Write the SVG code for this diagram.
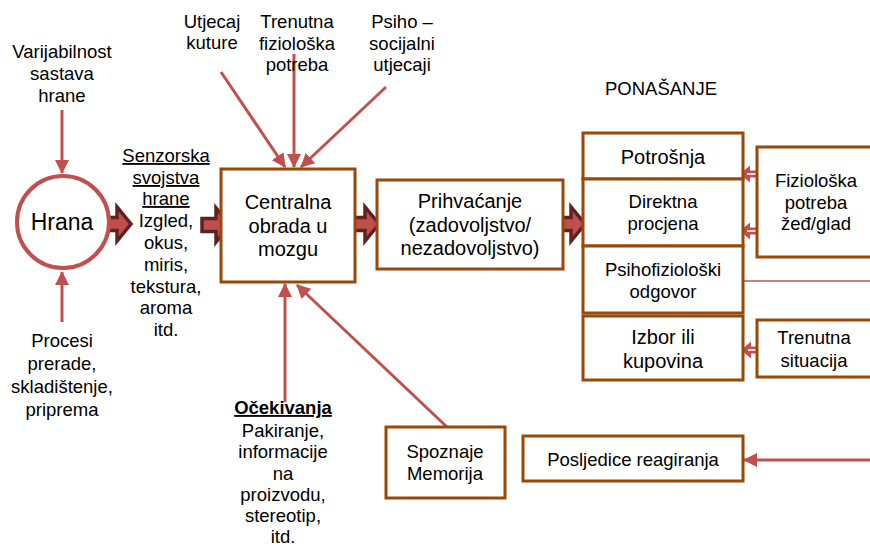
<svg xmlns="http://www.w3.org/2000/svg" xmlns:xlink="http://www.w3.org/1999/xlink" width="870" height="546" viewBox="0 0 870 546">
<style>
text{font-family:"Liberation Sans",Arial,sans-serif;font-size:18.5px;fill:#000;text-anchor:middle}
.big{font-size:20px}
.box{fill:#fff;stroke:#984807;stroke-width:3}
.ln{stroke:#C0504D;stroke-width:3;fill:none}
.ba{fill:#C0504D;stroke:#5E2220;stroke-width:3.5;stroke-linejoin:miter}
.ha{fill:#C0504D}
.wl{stroke:#fff;stroke-width:1.6}
</style>
<defs>
<marker id="ah" markerWidth="14" markerHeight="14" refX="13" refY="7" orient="auto" markerUnits="userSpaceOnUse"><path d="M0,0 L14,7 L0,14 z" fill="#C0504D"/></marker>
<path id="barrow" d="M0,-6.5 H14 V-17 L28,0 L14,17 V6.5 H0 Z"/>
<g id="harrow"><path d="M0,0 L10,-8.5 V-3.5 H32 V3.5 H10 V8.5 Z" class="ha"/><line x1="7" y1="0" x2="32" y2="0" class="wl"/></g>
</defs>

<g id="connectors">
<line class="ln" x1="62" y1="110" x2="62" y2="173" marker-end="url(#ah)"/>
<line class="ln" x1="62" y1="322" x2="62" y2="272" marker-end="url(#ah)"/>
<line class="ln" x1="221" y1="72" x2="285" y2="167" marker-end="url(#ah)"/>
<line class="ln" x1="294" y1="54" x2="294" y2="167" marker-end="url(#ah)"/>
<line class="ln" x1="386" y1="87" x2="301" y2="167" marker-end="url(#ah)"/>
<line class="ln" x1="285" y1="402" x2="285" y2="284" marker-end="url(#ah)"/>
<line class="ln" x1="447" y1="427" x2="297" y2="285" marker-end="url(#ah)"/>
<line class="ln" x1="872" y1="460" x2="744" y2="460" marker-end="url(#ah)"/>
<line x1="743" y1="281" x2="872" y2="281" stroke="#C0504D" stroke-width="1.5"/>
<use xlink:href="#barrow" href="#barrow" class="ba" x="103" y="224"/>
<use xlink:href="#barrow" href="#barrow" class="ba" x="202" y="225"/>
<use xlink:href="#barrow" href="#barrow" class="ba" x="351" y="224"/>
<use xlink:href="#barrow" href="#barrow" class="ba" x="557" y="224"/>
<use xlink:href="#harrow" href="#harrow" x="740" y="174"/>
<use xlink:href="#harrow" href="#harrow" x="740" y="231"/>
<use xlink:href="#harrow" href="#harrow" x="741" y="350"/>
</g>

<g id="hrana">
<circle cx="63" cy="222" r="46" fill="#fff" stroke="#C0504D" stroke-width="4"/>
<text x="62" y="230" style="font-size:23px">Hrana</text>
</g>

<g id="varijabilnost">
<text x="62" y="58">Varijabilnost</text>
<text x="62" y="80">sastava</text>
<text x="62" y="102">hrane</text>
</g>

<g id="procesi">
<text x="62" y="347">Procesi</text>
<text x="62" y="370">prerade,</text>
<text x="62" y="393">skladištenje,</text>
<text x="62" y="416">priprema</text>
</g>

<g id="senzorska">
<text x="166" y="162" text-decoration="underline">Senzorska</text>
<text x="166" y="184" text-decoration="underline">svojstva</text>
<text x="166" y="205" text-decoration="underline">hrane</text>
<text x="166" y="227">Izgled,</text>
<text x="166" y="249">okus,</text>
<text x="166" y="271">miris,</text>
<text x="166" y="293">tekstura,</text>
<text x="166" y="314">aroma</text>
<text x="166" y="336">itd.</text>
</g>

<g id="utjecaj">
<text x="212" y="28">Utjecaj</text>
<text x="212" y="49">kuture</text>
</g>
<g id="trenutna-fizioloska">
<text x="297" y="28">Trenutna</text>
<text x="297" y="50">fiziološka</text>
<text x="297" y="71">potreba</text>
</g>
<g id="psiho">
<text x="402" y="28">Psiho –</text>
<text x="402" y="50">socijalni</text>
<text x="402" y="71">utjecaji</text>
</g>

<g id="centralna">
<rect class="box" x="221" y="169" width="134" height="113"/>
<text class="big" x="288" y="209">Centralna</text>
<text class="big" x="288" y="233">obrada u</text>
<text class="big" x="288" y="256">mozgu</text>
</g>

<g id="prihvacanje">
<rect class="box" x="377" y="180" width="186" height="89"/>
<text class="big" x="470" y="208">Prihvaćanje</text>
<text class="big" x="470" y="232">(zadovoljstvo/</text>
<text class="big" x="470" y="255">nezadovoljstvo)</text>
</g>

<g id="ponasanje">
<text x="661" y="95">PONAŠANJE</text>
</g>

<g id="potrosnja">
<rect class="box" x="583" y="133" width="160" height="46"/>
<text class="big" x="663" y="164">Potrošnja</text>
</g>
<g id="direktna">
<rect class="box" x="583" y="179" width="160" height="67"/>
<text x="663" y="208">Direktna</text>
<text x="663" y="230">procjena</text>
</g>
<g id="psihofizioloski">
<rect class="box" x="583" y="246" width="160" height="67"/>
<text x="663" y="276">Psihofiziološki</text>
<text x="663" y="298">odgovor</text>
</g>
<g id="izbor">
<rect class="box" x="583" y="316" width="160" height="64"/>
<text class="big" x="663" y="344">Izbor ili</text>
<text class="big" x="663" y="368">kupovina</text>
</g>

<g id="fizioloska">
<rect class="box" x="757" y="147" width="125" height="110"/>
<text x="816" y="187">Fiziološka</text>
<text x="816" y="209">potreba</text>
<text x="816" y="230">žeđ/glad</text>
</g>
<g id="trenutna-situacija">
<rect class="box" x="757" y="320" width="125" height="57"/>
<text x="814" y="344">Trenutna</text>
<text x="814" y="367">situacija</text>
</g>

<g id="ocekivanja">
<text x="283" y="414" style="font-weight:bold" text-decoration="underline">Očekivanja</text>
<text x="283" y="437">Pakiranje,</text>
<text x="283" y="458">informacije</text>
<text x="283" y="480">na</text>
<text x="283" y="501">proizvodu,</text>
<text x="283" y="522">stereotip,</text>
<text x="283" y="543">itd.</text>
</g>

<g id="spoznaje">
<rect class="box" x="386" y="427" width="119" height="71"/>
<text x="445" y="458">Spoznaje</text>
<text x="445" y="480">Memorija</text>
</g>

<g id="posljedice">
<rect class="box" x="523" y="436" width="220" height="45"/>
<text x="633" y="466">Posljedice reagiranja</text>
</g>
</svg>
